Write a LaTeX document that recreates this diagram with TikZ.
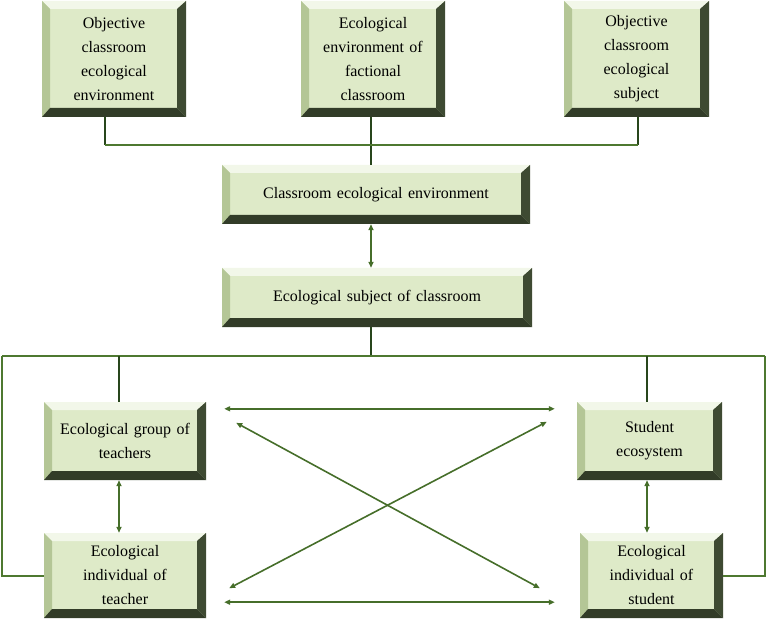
\documentclass[tikz,border=0pt]{standalone}
\usepackage{fontspec}
\setmainfont{Liberation Serif}
\usetikzlibrary{arrows.meta,calc}

\definecolor{boxfill}{RGB}{222,234,200}
\definecolor{bevtop}{RGB}{242,247,233}
\definecolor{bevleft}{RGB}{180,198,150}
\definecolor{bevright}{RGB}{62,74,50}
\definecolor{bevbottom}{RGB}{50,60,40}
\definecolor{stemcol}{RGB}{40,70,28}
\definecolor{buscol}{RGB}{78,120,48}
\definecolor{arrowcol}{RGB}{70,110,42}

\begin{document}
\begin{tikzpicture}[x=1pt, y=-1pt,
    eco/.style={rectangle, fill=boxfill, inner sep=0pt, align=center,
        font=\fontsize{16}{24}\selectfont,
        path picture={
          \fill[bevtop] (path picture bounding box.north west)
            -- (path picture bounding box.north east)
            -- ([xshift=-9pt,yshift=-8pt]path picture bounding box.north east)
            -- ([xshift=8pt,yshift=-8pt]path picture bounding box.north west) -- cycle;
          \fill[bevleft] (path picture bounding box.north west)
            -- ([xshift=8pt,yshift=-8pt]path picture bounding box.north west)
            -- ([xshift=8pt,yshift=9pt]path picture bounding box.south west)
            -- (path picture bounding box.south west) -- cycle;
          \fill[bevright] (path picture bounding box.north east)
            -- ([xshift=-9pt,yshift=-8pt]path picture bounding box.north east)
            -- ([xshift=-9pt,yshift=9pt]path picture bounding box.south east)
            -- (path picture bounding box.south east) -- cycle;
          \fill[bevbottom] (path picture bounding box.south west)
            -- ([xshift=8pt,yshift=9pt]path picture bounding box.south west)
            -- ([xshift=-9pt,yshift=9pt]path picture bounding box.south east)
            -- (path picture bounding box.south east) -- cycle;
        }},
    stem/.style={draw=stemcol, line width=2.4pt},
    bus/.style={draw=buscol, line width=2pt},
    twoway/.style={draw=arrowcol, line width=1.6pt,
        {Triangle[length=6pt,width=5pt]}-{Triangle[length=6pt,width=5pt]}}
]
\useasboundingbox (0,0) rectangle (768,620);

% top row
\node (tl) [eco, minimum width=144pt, minimum height=116pt, text width=128pt] at (114,59)
  {Objective\\classroom\\ecological\\environment};
\node (tm) [eco, minimum width=144pt, minimum height=116pt, text width=128pt] at (373,59)
  {Ecological\\environment of\\factional\\classroom};
\node (tr) [eco, minimum width=145pt, minimum height=116pt, text width=128pt] at (636.5,59)
  {Objective\\classroom\\ecological\\subject};

% middle
\node (env) [eco, minimum width=308pt, minimum height=59pt, text width=290pt] at (376,194.5)
  {Classroom ecological environment};
\node (subj) [eco, minimum width=310pt, minimum height=59pt, text width=290pt] at (377,297.5)
  {Ecological subject of classroom};

% bottom
\node (grp) [eco, minimum width=162pt, minimum height=78pt, text width=146pt] at (125,441)
  {Ecological group of\\teachers};
\node (stu) [eco, minimum width=145pt, minimum height=78pt, text width=130pt] at (649.5,441)
  {Student\\ecosystem};
\node (indT) [eco, minimum width=162pt, minimum height=85pt, text width=146pt] at (125,575.5)
  {Ecological\\individual of\\teacher};
\node (indS) [eco, minimum width=143pt, minimum height=85pt, text width=128pt] at (651.5,575.5)
  {Ecological\\individual of\\student};

\coordinate (topbus) at (371,145);
\coordinate (busL) at (2,356);
\coordinate (busR) at (765,356);

% upper tree
\draw[stem] ([xshift=-9pt]tl.south) -- ([xshift=-9pt]tl.south |- topbus);
\draw[stem] ([xshift=1.5pt]tr.south) -- ([xshift=1.5pt]tr.south |- topbus);
\draw[stem] (tm.south -| topbus) -- (env.north -| topbus);
\draw[bus] ([xshift=-9pt]tl.south |- topbus) -- ([xshift=1.5pt]tr.south |- topbus);
\draw[twoway] (env.south -| topbus) -- (subj.north -| topbus);

% lower tree
\draw[stem] (subj.south -| topbus) -- (busL -| topbus);
\draw[bus] (busL) -- (busR);
\draw[bus] (busL) |- (indT.west);
\draw[bus] (busR) |- (indS.east);
\draw[stem] ([xshift=-6pt]grp.north) -- ([xshift=-6pt]grp.north |- busL);
\draw[stem] ([xshift=-2.5pt]stu.north) -- ([xshift=-2.5pt]stu.north |- busL);
\draw[twoway] ([xshift=-6pt]grp.south) -- ([xshift=-6pt]indT.north);
\draw[twoway] ([xshift=-2.5pt]stu.south) -- ([xshift=-4.5pt]indS.north);

% cross links
\draw[twoway] ($(grp.north east)+(18,7)$) -- ($(stu.north west)+(-22,7)$);
\draw[twoway] ($(indT.south east)+(18,-16)$) -- ($(indS.south west)+(-25,-16)$);
\draw[twoway] ($(grp.north east)+(30,21)$) -- ($(indS.south west)+(-40,-30)$);
\draw[twoway] ($(indT.south east)+(23,-30)$) -- ($(stu.north west)+(-30,20)$);

\end{tikzpicture}
\end{document}
